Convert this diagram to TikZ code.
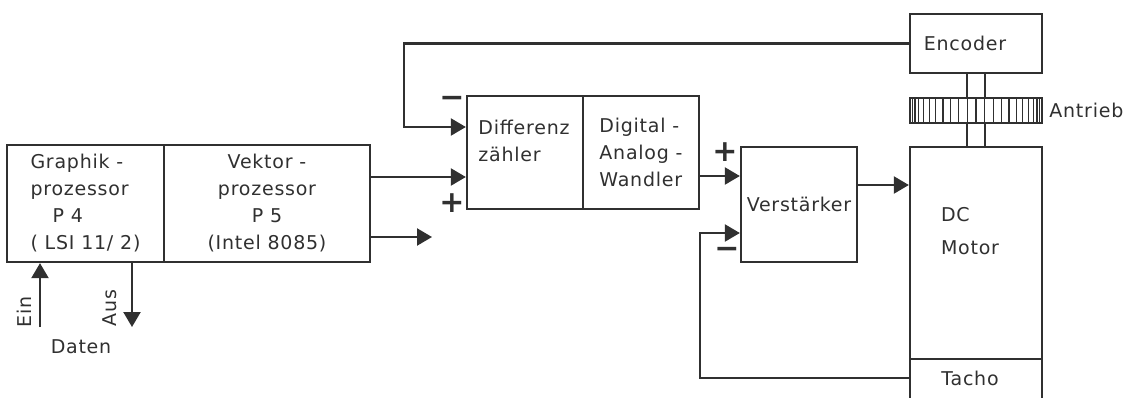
\documentclass[tikz,border=0pt]{standalone}
\usepackage{fontspec}
\setmainfont{DejaVu Sans}[LetterSpace=4]
\usetikzlibrary{arrows.meta}

\definecolor{ink}{HTML}{303030}
\tikzset{
  box/.style={draw=ink, line width=2.3pt, inner sep=0pt, align=center},
  conn/.style={draw=ink, line width=2.3pt},
  arr/.style={conn, -{Triangle[length=15pt,width=17pt]}},
  sign/.style={font=\fontsize{30}{30}\selectfont\bfseries, text=ink, inner sep=0pt},
}

\begin{document}
\begin{tikzpicture}[x=1pt, y=-1pt, font=\fontsize{19}{27}\selectfont, text=ink]
    \useasboundingbox (0,0) rectangle (1132,397);

    % rechner
    \node[box, minimum width=157pt, minimum height=117pt, align=left] (graphik) at (85.5,203.5)
        {Graphik -\\prozessor\\\hspace*{22pt}P 4\\( LSI 11/ 2)};
    \node[box, minimum width=206pt, minimum height=117pt] (vektor) at (267,203.5)
        {Vektor -\\prozessor\\P 5\\(Intel 8085)};

    % regelkreis
    \node[box, minimum width=116pt, minimum height=113pt] (diff) at (525,152.5) {};
    \node[align=left] (difflbl) at (524,141) {Differenz\\zähler};
    \node[box, minimum width=116pt, minimum height=113pt, align=left] (dac) at (641,152.5)
        {Digital -\\Analog -\\Wandler};
    \node[box, minimum width=116pt, minimum height=115pt] (amp) at (799,204.5) {Verstärker};

    % antrieb
    \node[box, minimum width=132pt, minimum height=212pt] (motor) at (976,253) {};
    \node[align=left] (motorlbl) at (970,231) {DC\\[6pt]Motor};
    \node[box, minimum width=132pt, minimum height=50pt] (tacho) at (976,384) {};
    \node (tacholbl) at (970,378) {Tacho};
    \node[box, minimum width=132pt, minimum height=59pt] (encoder) at (976,43.5) {};
    \node (encoderlbl) at (965,43.5) {Encoder};
    \node[draw=ink, line width=1.8pt, minimum width=132pt, minimum height=25pt, inner sep=0pt] (gear) at (976,110.5) {};
    \foreach \a in {7.5,15,...,172.5}
        \draw[ink, line width=1.1pt] ([xshift={66*cos(\a)}]gear.north) -- ([xshift={66*cos(\a)}]gear.south);
    \foreach \dx in {-9,9} {
        \draw[conn] ([xshift=\dx pt]encoder.south) -- ([xshift=\dx pt]gear.north);
        \draw[conn] ([xshift=\dx pt]gear.south) -- ([xshift=\dx pt]motor.north);
    }
    \node[anchor=west] (antrieb) at ([xshift=3pt]gear.east) {Antrieb};

    % verbindungen
    \coordinate (fbtop) at (404,43.5);
    \draw[arr] (encoder.west) -- (fbtop) |- ([yshift=25.5pt]diff.west);
    \coordinate (v1) at ([yshift=26.5pt]vektor.east);
    \draw[arr] (v1) -- (v1 -| diff.west);
    \coordinate (vout) at (432,237);
    \draw[arr] (vout -| vektor.east) -- (vout);
    \coordinate (d1) at ([yshift=-23.5pt]dac.east);
    \draw[arr] (d1) -- (d1 -| amp.west);
    \coordinate (a1) at ([yshift=19.5pt]amp.east);
    \draw[arr] (a1) -- (a1 -| motor.west);
    \coordinate (tturn) at (700,378);
    \draw[arr] (tturn -| tacho.west) -- (tturn) |- ([yshift=-28.5pt]amp.west);

    \coordinate (ein) at (40,327);
    \draw[arr] (ein) -- (ein |- graphik.south);
    \coordinate (aus) at (132,327);
    \draw[arr] (aus |- graphik.south) -- (aus);
    \node[rotate=90] (einlbl) at (24,312) {Ein};
    \node[rotate=90] (auslbl) at (110,308) {Aus};
    \node (daten) at (81,347) {Daten};

    % vorzeichen
    \node[sign] (minusdiff) at (452,102) {−};
    \node[sign] (plusdiff) at (452,203) {+};
    \node[sign] (plusamp) at (725,152) {+};
    \node[sign] (minusamp) at (727,253) {−};
\end{tikzpicture}
\end{document}
